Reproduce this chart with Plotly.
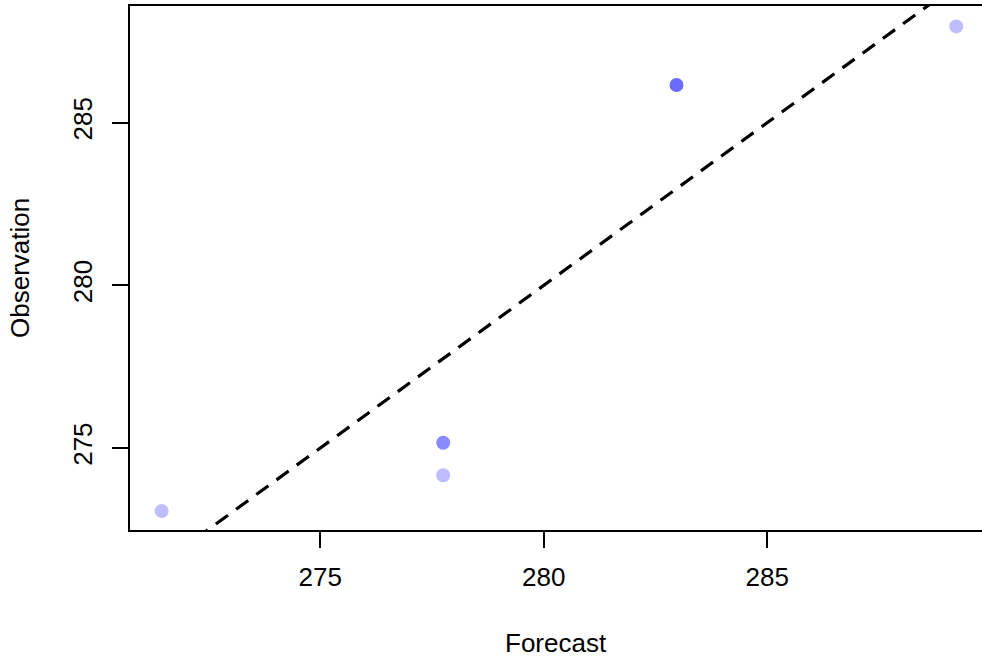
import plotly.graph_objects as go

forecast = [271.45, 277.75, 277.75, 282.97, 289.23]
observation = [273.06, 274.16, 275.16, 286.16, 287.96]
point_colors = ["#BEBEFF", "#BEBEFF", "#8A8AFF", "#6B6BFF", "#BEBEFF"]
x_ticks = [275, 280, 285]
y_ticks = [275, 280, 285]
diag = [260, 300]

fig = go.Figure()
fig.add_trace(go.Scatter(x=diag, y=diag, mode="lines",
                         line=dict(color="black", width=3.2, dash="15px,10px"),
                         hoverinfo="skip", showlegend=False))
fig.add_trace(go.Scatter(x=forecast, y=observation, mode="markers",
                         marker=dict(size=14, color=point_colors, line=dict(width=0)),
                         showlegend=False, cliponaxis=False))

font = dict(family="Liberation Sans, Arial, sans-serif", size=26, color="black")
fig.update_layout(
    width=982, height=658,
    margin=dict(l=130, r=0, t=6, b=128),
    paper_bgcolor="white", plot_bgcolor="white",
    font=font,
    xaxis=dict(range=[270.742, 289.806], tickvals=x_ticks, ticktext=[str(v) for v in x_ticks],
               showgrid=False, zeroline=False, showline=True, linecolor="black", linewidth=2,
               mirror=True, ticks="outside", ticklen=16, tickwidth=2, tickcolor="black",
               ticklabelstandoff=7),
    yaxis=dict(range=[272.479, 288.587], tickvals=y_ticks, ticktext=[str(v) for v in y_ticks],
               showgrid=False, zeroline=False, showline=True, linecolor="black", linewidth=2,
               ticks="outside", ticklen=16, tickwidth=2, tickcolor="black", tickangle=-90,
               ticklabelstandoff=10),
    annotations=[
        dict(text="Forecast", x=0.5, xref="x domain", y=-113 / 524, yref="paper",
             showarrow=False, font=font, xanchor="center", yanchor="middle"),
        dict(text="Observation", x=(20 - 130) / 852, xref="paper", y=0.5, yref="paper",
             showarrow=False, font=font, textangle=-90, xanchor="center", yanchor="middle"),
    ],
)
fig.write_html("out.html", config={"displayModeBar": False},
               post_script="document.body.style.margin='0';document.body.style.overflow='hidden';")
